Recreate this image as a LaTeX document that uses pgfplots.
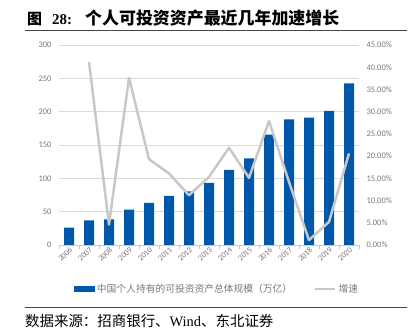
\documentclass[border=0pt]{standalone}
\usepackage{fontspec}
\setmainfont{Carlito}
\newfontfamily\cjk{Noto Sans CJK SC}
\newfontfamily\serif{Liberation Serif}
\usepackage{pgfplots}
\usepackage{pgfplotstable}
\pgfplotsset{compat=1.18}
\definecolor{barblue}{RGB}{0,88,170}
\definecolor{linegray}{RGB}{200,200,200}
\definecolor{txtgray}{RGB}{120,120,120}
\definecolor{gridgray}{RGB}{217,217,217}
\definecolor{axisgray}{RGB}{200,200,200}
\definecolor{rulegray}{RGB}{70,70,70}

\pgfplotstableread{
x year v
0 2006 26
1 2007 37
2 2008 38.5
3 2009 53
4 2010 63
5 2011 73.5
6 2012 80.5
7 2013 93
8 2014 112.5
9 2015 130
10 2016 165.5
11 2017 188.5
12 2018 191
13 2019 201
14 2020 242.5
}\bars

\pgfplotstableread{
x g
1 41.2
2 4.6
3 37.6
4 19.3
5 16.1
6 11.2
7 15.3
8 21.9
9 15.1
10 27.9
11 14.2
12 1.1
13 5.2
14 20.6
}\growth

\begin{document}
\begin{tikzpicture}
\useasboundingbox (0,0) rectangle (414bp,336bp);
% title
\node[anchor=base west, inner sep=0] at (27bp,311bp) {\fontsize{15}{15}\selectfont\cjk\bfseries 图};
\node[anchor=base west, inner sep=0] at (52bp,311bp) {\fontsize{15}{15}\selectfont\serif\bfseries 28:};
\node[anchor=base west, inner sep=0] at (85bp,311bp) {\fontsize{17}{17}\selectfont\cjk\bfseries 个人可投资资产最近几年加速增长};
\draw[rulegray, line width=1bp] (25bp,305bp) -- (407bp,305bp);
% source
\draw[rulegray, line width=1bp] (25bp,28bp) -- (407bp,28bp);
\node[anchor=base west, inner sep=0] at (25bp,10bp) {\fontsize{14.5}{14.5}\selectfont\cjk 数据来源：招商银行、{\serif Wind}、东北证券};

\begin{axis}[
  at={(59bp,91bp)}, anchor=south west,
  width=300bp, height=200bp, scale only axis,
  xmin=-0.5, xmax=14.5, ymin=0, ymax=300,
  axis lines*=left,
  y axis line style={draw=none},
  x axis line style={draw=axisgray, line width=0.8bp},
  ytick={0,50,...,300},
  ymajorgrids, grid style={gridgray, line width=0.8bp},
  /pgf/number format/assume math mode=true,
  ytick style={draw=none},
  yticklabel style={font=\fontsize{8.5}{8.5}\selectfont, color=txtgray, xshift=-4bp},
  xtick={0,...,14},
  xticklabels={2006,2007,2008,2009,2010,2011,2012,2013,2014,2015,2016,2017,2018,2019,2020},
  xtick style={draw=none},
  x tick label style={rotate=45, anchor=north east, font=\fontsize{8}{8}\selectfont, color=txtgray, inner sep=1bp},
  extra x ticks={-0.5,0.5,...,14.5},
  extra x tick labels={},
  extra x tick style={xtick style={draw=axisgray, line width=0.8bp}, major tick length=4bp, tick align=outside},
  legend style={at={(0.527,-0.22)}, anchor=center, draw=none, fill=none,
    legend columns=2, font=\fontsize{9.8}{9.8}\selectfont\cjk, text=txtgray,
    /tikz/every even column/.append style={column sep=20bp}},
  legend cell align=left,
]
\addplot[ybar, bar width=10bp, fill=barblue, draw=none,
  legend image code/.code={\fill[barblue] (0bp,-2.7bp) rectangle (21bp,2.7bp);}]
  table[x=x, y=v]{\bars};
\addlegendentry{中国个人持有的可投资资产总体规模（万亿）}
\addlegendimage{linegray, line width=2.5bp, legend image code/.code={\draw[linegray, line width=2.5bp] (0bp,0bp) -- (20bp,0bp);}}
\addlegendentry{增速}
\end{axis}

\begin{axis}[
  at={(59bp,91bp)}, anchor=south west,
  width=300bp, height=200bp, scale only axis,
  xmin=-0.5, xmax=14.5, ymin=0, ymax=45,
  axis y line*=right, axis x line=none,
  y axis line style={draw=none},
  ytick={0,5,...,45},
  ytick style={draw=none},
  /pgf/number format/assume math mode=true,
  yticklabel={\pgfmathprintnumber[fixed,fixed zerofill,precision=2]{\tick}\%},
  yticklabel style={font=\fontsize{8.5}{8.5}\selectfont, color=txtgray, xshift=4bp},
]
\addplot[linegray, line width=2.5bp, line join=round] table[x=x, y=g]{\growth};
\end{axis}
\end{tikzpicture}
\end{document}
